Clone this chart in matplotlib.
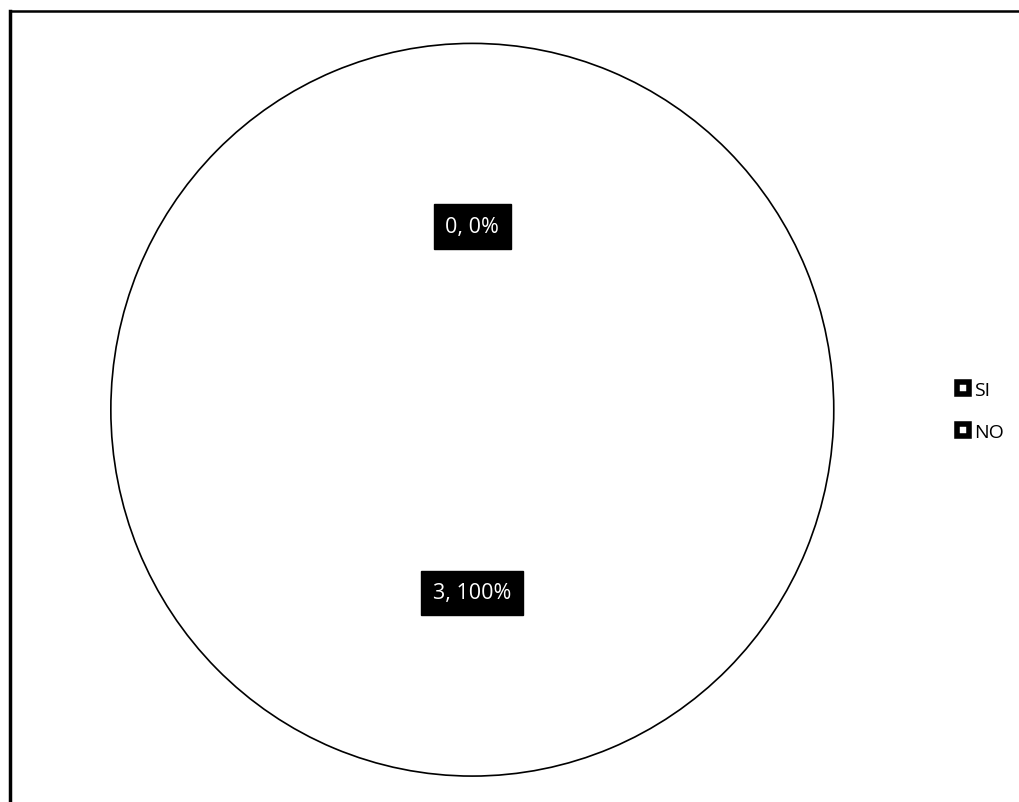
import matplotlib.pyplot as plt
from matplotlib.lines import Line2D

# answers of the survey question
categorias = ["SI", "NO"]
valores = [0, 3]

fig = plt.figure(figsize=(10.19, 8.03), dpi=100)
fig.patch.set_facecolor("white")

# frame of the chart area (left and top edges only)
fig.add_artist(Line2D([10 / 1019, 10 / 1019], [0, 1 - 12 / 803], color="black", lw=2.5))
fig.add_artist(Line2D([10 / 1019, 1], [1 - 12 / 803, 1 - 12 / 803], color="black", lw=1.8))

ax = fig.add_axes([0.107, 0.030, 0.713, 0.917])
total = sum(valores)


def etiqueta(pct):
    n = int(round(pct * total / 100.0))
    return "%d, %d%%" % (n, round(pct))


wedges, textos, autotextos = ax.pie(
    valores, startangle=90, counterclock=False,
    colors=["white", "white"], autopct=etiqueta, pctdistance=0.5,
    wedgeprops=dict(edgecolor="black", linewidth=1.2),
    textprops=dict(color="white", fontsize=15.5, family="Open Sans"))
wedges[0].set_linewidth(0)
for t in autotextos:
    t.set_bbox(dict(facecolor="black", edgecolor="black", boxstyle="square,pad=0.55"))
ax.set_aspect("auto")
ax.set_xlim(-1.005, 1.005)
ax.set_ylim(-1.005, 1.005)

# legend with small boxed markers
handles = [Line2D([], [], linestyle="none", marker="s", markersize=8,
                  markerfacecolor="white", markeredgecolor="black", markeredgewidth=4)
           for _ in categorias]
fig.legend(handles, categorias, loc="center left", bbox_to_anchor=(0.922, 0.487),
           frameon=False, handlelength=0.6, handletextpad=0.3, labelspacing=1.25,
           prop=dict(family="Open Sans", size=14))

fig.savefig("out.png", dpi=100, facecolor="white")
